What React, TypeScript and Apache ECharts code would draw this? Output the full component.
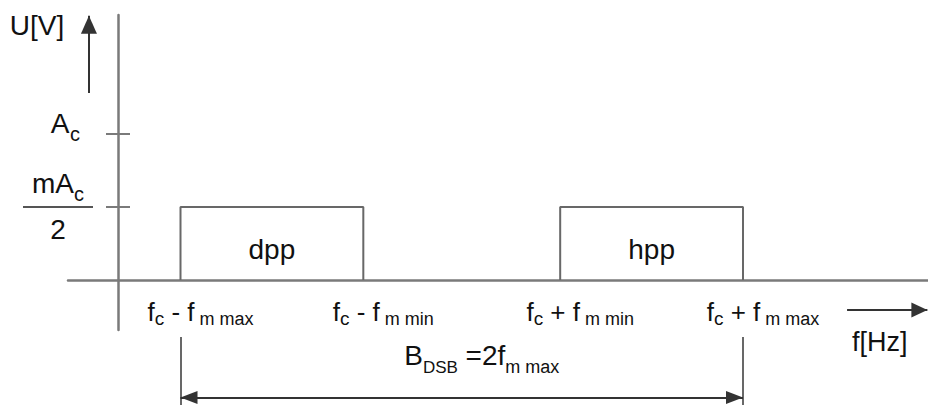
import React, { useEffect, useRef } from 'react';
import * as echarts from 'echarts';

// ---- data (arbitrary units) ----
const FC = 11; // carrier frequency
const FM_MAX = 9; // highest modulating frequency
const FM_MIN = 3.15; // lowest modulating frequency
const FREQ_POINTS = [FC - FM_MAX, FC - FM_MIN, FC + FM_MIN, FC + FM_MAX];
const FREQ_LABELS = [
  '{m|f}{s|c}{m| - f}{t| m max}',
  '{m|f}{s|c}{m| - f}{t| m min}',
  '{m|f}{s|c}{m| + f}{t| m min}',
  '{m|f}{s|c}{m| + f}{t| m max}',
];
const A_C = 2; // carrier amplitude
const MOD_INDEX = 1; // modulation index m
const SIDE_LEVEL = (MOD_INDEX * A_C) / 2;
const Y_TICKS = [SIDE_LEVEL, A_C];
const Y_LABELS = ['{n|mA}{nc|c}\n{bar|}\n{n|2}', '{n|  A}{ns|c}\n{gap|}'];
const BAND_NAMES = ['dpp', 'hpp'];
const BAND_EDGES = [
  [FREQ_POINTS[0], FREQ_POINTS[1]],
  [FREQ_POINTS[2], FREQ_POINTS[3]],
];
const BANDWIDTH_LABEL = '{b|B}{bs|DSB}{b| =2f}{bt|m max}';
const Y_NAME = 'U[V]';
const X_NAME = 'f[Hz]';

// axis extents
const X_MIN = -1.6;
const X_MAX = 25.92;
const Y_MIN = -0.685;
const Y_MAX = 3.63;
const Y2_MIN = -1.712;

// annotation arrows (data units)
const UP_ARROW_X = -0.93;
const UP_ARROW_Y = [2.56, 3.62];
const RIGHT_ARROW_Y = -0.41;
const RIGHT_ARROW_X = [23.33, 25.9];
const BRACKET_TOP = -0.78;
const BRACKET_ARROW_Y = -1.61;
const BAND_LABEL_Y = SIDE_LEVEL * 0.42;
const BW_LABEL_Y = -1.035;

const FONT = '"Liberation Sans", Arial, sans-serif';
const TEXT = '#111';
const AXIS = '#7a7a7a';
const LINE = '#686868';
const ARROW = '#333';

export default function App() {
  const ref = useRef<HTMLDivElement>(null);
  useEffect(() => {
    if (!ref.current) return;
    const chart = echarts.init(ref.current, null, { renderer: 'svg' });
    const t = (o: any) => ({ fontFamily: FONT, color: TEXT, ...o });
    const F1 = FREQ_POINTS[0];
    const F4 = FREQ_POINTS[3];
    const option: any = {
      animation: false,
      textStyle: { fontFamily: FONT },
      grid: [
        { left: 68, right: 0, top: 15, bottom: 75, containLabel: false, outerBoundsMode: 'none' },
        { left: 68, right: 0, top: 330, bottom: 0, containLabel: false, outerBoundsMode: 'none' },
      ],
      xAxis: [
        {
          type: 'value',
          gridIndex: 0,
          min: X_MIN,
          max: X_MAX,
          axisLine: { show: true, onZero: true, lineStyle: { color: AXIS, width: 2.5 } },
          axisTick: { show: false },
          splitLine: { show: false },
          axisLabel: {
            show: true,
            customValues: FREQ_POINTS,
            margin: -34,
            padding: [0, 0, 0, 40],
            formatter: (v: number) => {
              const i = FREQ_POINTS.findIndex((p) => Math.abs(p - v) < 1e-6);
              return i >= 0 ? FREQ_LABELS[i] : '';
            },
            rich: {
              m: t({ fontSize: 26, lineHeight: 32 }),
              s: t({ fontSize: 19, lineHeight: 19, verticalAlign: 'bottom' }),
              t: t({ fontSize: 18, lineHeight: 19, verticalAlign: 'bottom' }),
            },
          },
          name: '{gap|}\n{n|' + X_NAME + '}',
          nameLocation: 'end',
          nameGap: -76,
          nameMoveOverlap: false,
          nameTextStyle: t({
            fontSize: 27,
            rich: {
              gap: { lineHeight: 124, fontSize: 10 },
              n: t({ fontSize: 27, lineHeight: 30 }),
            },
          }),
        },
        { type: 'value', gridIndex: 1, min: X_MIN, max: X_MAX, show: false },
      ],
      yAxis: [
        {
          type: 'value',
          gridIndex: 0,
          min: Y_MIN,
          max: Y_MAX,
          axisLine: { show: true, onZero: true, lineStyle: { color: AXIS, width: 2.5 } },
          axisTick: { show: true, customValues: Y_TICKS, length: 12, lineStyle: { color: AXIS, width: 2 } },
          splitLine: { show: false },
          axisLabel: {
            show: true,
            customValues: Y_TICKS,
            align: 'center',
            margin: 10,
            formatter: (v: number) => {
              const i = Y_TICKS.findIndex((p) => Math.abs(p - v) < 1e-6);
              return i >= 0 ? Y_LABELS[i] : '';
            },
            rich: {
              n: t({ fontSize: 28, lineHeight: 40 }),
              nc: t({ fontSize: 20, lineHeight: 28, verticalAlign: 'bottom' }),
              ns: t({ fontSize: 20, lineHeight: 20, verticalAlign: 'bottom' }),
              bar: { width: 70, height: 2, lineHeight: 6, backgroundColor: '#555' },
              gap: { lineHeight: 20, fontSize: 10 },
            },
          },
          name: Y_NAME,
          nameLocation: 'end',
          nameGap: -25,
          nameMoveOverlap: false,
          nameTextStyle: t({ fontSize: 28, lineHeight: 30, padding: [0, 162, 0, 0] }),
        },
        {
          // mirror of the tick marks on the inner side of the U axis
          type: 'value',
          gridIndex: 0,
          position: 'left',
          offset: -50,
          min: Y_MIN,
          max: Y_MAX,
          axisLine: { show: false, onZero: false },
          axisTick: {
            show: true,
            inside: true,
            customValues: Y_TICKS,
            length: 12,
            lineStyle: { color: AXIS, width: 2 },
          },
          axisLabel: { show: false },
          splitLine: { show: false },
        },
        { type: 'value', gridIndex: 1, min: Y2_MIN, max: Y_MIN, show: false },
      ],
      series: [
        ...BAND_EDGES.map((e, k) => ({
          type: 'line',
          name: BAND_NAMES[k],
          xAxisIndex: 0,
          yAxisIndex: 0,
          silent: true,
          symbol: 'none',
          lineStyle: { color: LINE, width: 2 },
          data: [
            [e[0], 0],
            [e[0], SIDE_LEVEL],
            [e[1], SIDE_LEVEL],
            [e[1], 0],
          ],
          markLine:
            k === 0
              ? {
                  silent: true,
                  label: { show: false },
                  lineStyle: { color: ARROW, width: 2, type: 'solid' },
                  emphasis: { disabled: true },
                  data: [
                    [
                      { coord: [UP_ARROW_X, UP_ARROW_Y[0]], symbol: 'none' },
                      { coord: [UP_ARROW_X, UP_ARROW_Y[1]], symbol: 'triangle', symbolSize: [16, 18], symbolOffset: [0, 9] },
                    ],
                    [
                      { coord: [RIGHT_ARROW_X[0], RIGHT_ARROW_Y], symbol: 'none' },
                      { coord: [RIGHT_ARROW_X[1], RIGHT_ARROW_Y], symbol: 'triangle', symbolSize: [15, 16], symbolOffset: [0, 8] },
                    ],
                  ],
                }
              : undefined,
        })),
        {
          type: 'scatter',
          name: 'band labels',
          xAxisIndex: 0,
          yAxisIndex: 0,
          silent: true,
          symbolSize: 1,
          itemStyle: { color: 'transparent', opacity: 1 },
          label: { show: true, position: 'inside', formatter: '{b}', opacity: 1, ...t({ fontSize: 28 }) },
          data: BAND_EDGES.map((e, k) => ({ name: BAND_NAMES[k], value: [(e[0] + e[1]) / 2, BAND_LABEL_Y] })),
        },
        {
          type: 'line',
          name: 'bandwidth',
          xAxisIndex: 1,
          yAxisIndex: 2,
          silent: true,
          symbol: 'none',
          data: [],
          markLine: {
            silent: true,
            label: { show: false },
            lineStyle: { color: LINE, width: 2, type: 'solid' },
            emphasis: { disabled: true },
            data: [
              [
                { coord: [F1, BRACKET_TOP], symbol: 'none' },
                { coord: [F1, Y2_MIN + 0.001], symbol: 'none' },
              ],
              [
                { coord: [F4, BRACKET_TOP], symbol: 'none' },
                { coord: [F4, Y2_MIN + 0.001], symbol: 'none' },
              ],
              [
                { coord: [F1, BRACKET_ARROW_Y], symbol: 'triangle', symbolSize: [13, 17], symbolOffset: [0, 8.5], lineStyle: { color: ARROW } },
                { coord: [F4, BRACKET_ARROW_Y], symbol: 'triangle', symbolSize: [13, 17], symbolOffset: [0, 8.5] },
              ],
            ],
          },
        },
        {
          type: 'scatter',
          name: 'bandwidth label',
          xAxisIndex: 1,
          yAxisIndex: 2,
          silent: true,
          symbolSize: 1,
          itemStyle: { color: 'transparent', opacity: 1 },
          label: {
            show: true,
            position: 'inside',
            offset: [20, 0],
            opacity: 1,
            formatter: BANDWIDTH_LABEL,
            rich: {
              b: t({ fontSize: 28, lineHeight: 40 }),
              bs: t({ fontSize: 17, lineHeight: 17, verticalAlign: 'bottom' }),
              bt: t({ fontSize: 18, lineHeight: 20, verticalAlign: 'bottom' }),
            },
          },
          data: [{ name: 'BDSB', value: [(F1 + F4) / 2, BW_LABEL_Y] }],
        },
      ],
    };
    chart.setOption(option);
    return () => chart.dispose();
  }, []);
  return <div ref={ref} style={{ position: 'fixed', left: 0, top: 0, width: 928, height: 405, background: '#fff' }} />;
}
